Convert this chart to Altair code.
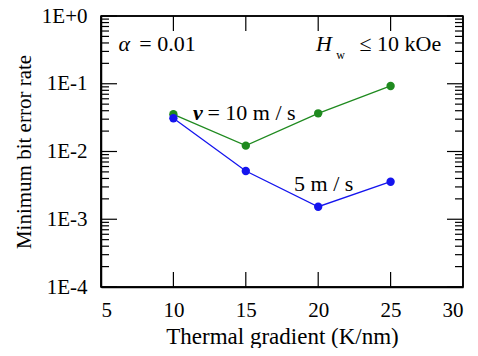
import altair as alt
import pandas as pd

# Data
gradient = [10, 15, 20, 25]
ber_10 = [0.0354, 0.0122, 0.0366, 0.0927]   # v = 10 m/s (green)
ber_5 = [0.0310, 0.00515, 0.00153, 0.00358]  # v = 5 m/s (blue)

x_ticks = [5, 10, 15, 20, 25, 30]
x_inner_ticks = [10, 15, 20, 25]
y_major = [1e-4, 1e-3, 1e-2, 1e-1, 1.0]
y_minor = [k * 10.0 ** d for d in (-4, -3, -2, -1) for k in range(2, 10)]
x_edges = [5, 30]
y_edges = [1e-4, 1.0]

W, H = 362, 271
FONT = "Liberation Serif"
GREEN = "#1f8a1f"
BLUE = "#1414ee"

df = pd.DataFrame({
    "x": gradient * 2,
    "y": ber_10 + ber_5,
    "s": ["10"] * 4 + ["5"] * 4,
})
df_major = pd.DataFrame({"y": y_major})
df_minor = pd.DataFrame({"y": y_minor})
df_xt = pd.DataFrame({"x": x_inner_ticks})
df_xe = pd.DataFrame({"x": x_edges})
df_ye = pd.DataFrame({"y": y_edges})

xs = alt.Scale(domain=[5, 30], nice=False, zero=False)
ys = alt.Scale(type="log", domain=[1e-4, 1], nice=False)

x_axis = alt.Axis(values=x_ticks, title="Thermal gradient (K/nm)", ticks=False,
                  domain=True, domainColor="black", domainWidth=1.5, grid=False,
                  labelFont=FONT, labelFontSize=21,
                  labelColor="black", labelPadding=12, titleFont=FONT,
                  titleFontSize=23, titleFontWeight="normal", titleColor="black",
                  titlePadding=5)
y_axis = alt.Axis(values=y_major, title="Minimum bit error rate", ticks=False,
                  domain=True, domainColor="black", domainWidth=1.5, grid=False,
                  labelFont=FONT, labelFontSize=21,
                  labelColor="black", labelPadding=14,
                  labelExpr="datum.value >= 1 ? '1E+0' : '1E' + round(log(datum.value)/LN10)",
                  titleFont=FONT, titleFontSize=21, titleFontWeight="normal",
                  titleColor="black", titlePadding=7)

color = alt.Color("s:N", scale=alt.Scale(domain=["10", "5"], range=[GREEN, BLUE]), legend=None)
base = alt.Chart(df)

lines = base.mark_line(strokeWidth=1.3).encode(
    x=alt.X("x:Q", scale=xs, axis=x_axis),
    y=alt.Y("y:Q", scale=ys, axis=y_axis),
    color=color,
)
points = base.mark_circle(size=70, opacity=1).encode(
    x=alt.X("x:Q", scale=xs, axis=x_axis), y=alt.Y("y:Q", scale=ys, axis=y_axis), color=color,
)

def yrule(df_, x0, x1, sw=1.2):
    return alt.Chart(df_).mark_rule(color="black", strokeWidth=sw).encode(
        y=alt.Y("y:Q", scale=ys, axis=y_axis), x=alt.value(x0), x2=alt.value(x1))

def xrule(df_, y0, y1, sw=1.2):
    return alt.Chart(df_).mark_rule(color="black", strokeWidth=sw).encode(
        x=alt.X("x:Q", scale=xs, axis=x_axis), y=alt.value(y0), y2=alt.value(y1))

ticks = [
    yrule(df_major, 0, 16), yrule(df_minor, 0, 8),
    yrule(df_major, W, W - 16), yrule(df_minor, W, W - 8),
    xrule(df_xt, H, H - 15), xrule(df_xt, 0, 15),
]
frame = [yrule(df_ye, 0, W, 1.6), xrule(df_xe, 0, H, 1.6)]

def txt(s, x, y, size=22, style="normal", align="left", weight="normal"):
    return alt.Chart(pd.DataFrame({"t": [s]})).mark_text(
        text=s, font=FONT, fontSize=size, fontStyle=style, align=align,
        baseline="middle", color="black", fontWeight=weight,
    ).encode(x=alt.datum(x, scale=xs), y=alt.datum(y, scale=ys))

texts = [
    txt("α", 6.2, 0.386, style="italic"),
    txt("= 0.01", 7.65, 0.386),
    txt("H", 19.85, 0.386, style="italic"),
    txt("w", 21.25, 0.27, size=12),
    txt("≤ 10 kOe", 28.5, 0.386, align="right"),
    txt("v", 11.35, 0.037, style="italic", weight="bold"),
    txt("= 10 m / s", 12.35, 0.037),
    txt("5 m / s", 18.33, 0.0033),
]

chart = alt.layer(lines, points, *ticks, *frame, *texts).properties(
    width=W, height=H,
    background="white",
    autosize=alt.AutoSizeParams(type="none"),
    padding={"left": 93, "top": 8, "right": 7, "bottom": 61},
).configure_view(stroke="black", strokeWidth=1.5)

chart.save("out.html", embed_options={"renderer": "svg", "actions": False})
